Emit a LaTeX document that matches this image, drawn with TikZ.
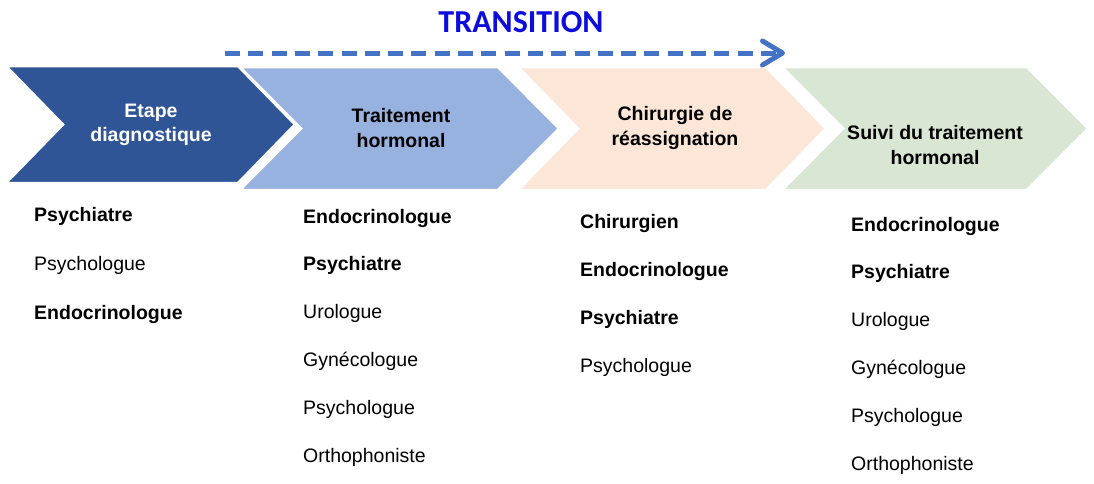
\documentclass[tikz,border=0pt]{standalone}
\usepackage{fontspec}
\setmainfont{Liberation Sans}
\newfontfamily\calibri{Carlito}
\usepackage{tikz}
\usetikzlibrary{arrows.meta}

\definecolor{diagblue}{HTML}{2F5597}
\definecolor{hormblue}{HTML}{98B2E0}
\definecolor{chirpeach}{HTML}{FBE6D8}
\definecolor{suivigreen}{HTML}{D9E6D4}
\definecolor{arrowblue}{HTML}{4472C4}
\definecolor{transblue}{HTML}{0C0CDC}

\tikzset{
 steptext/.style={align=center, inner sep=0pt, font=\fontsize{19.5}{24.5}\selectfont\bfseries},
 role/.style={anchor=base west, inner sep=0pt, font=\fontsize{19.5}{23}\selectfont},
 transarrow/.style={arrowblue, line width=5pt, dash pattern=on 15pt off 8.3pt,
   -{Straight Barb[length=20pt, width=24pt, line width=5pt, round]}},
}

\begin{document}
\begin{tikzpicture}[x=1pt, y=-1pt]
\useasboundingbox (0,0) rectangle (1094,483);
% the four steps
\foreach \xl/\xr/\ya/\yb/\d/\col in {6/238/66/183/57/diagblue, 240/498/67/190/61/hormblue,
  518/766/67/190/60/chirpeach, 782/1027/67/190/61/suivigreen} {
 \filldraw[fill=\col, draw=white, line width=2.5pt, line join=miter] (\xl,\ya) -- (\xr,\ya) -- ++(\d,{(\yb-\ya)/2}) -- (\xr,\yb)
   -- (\xl,\yb) -- ++(\d,{(\ya-\yb)/2}) -- cycle;
}
\node[steptext, white] (diag) at (151,125) {Etape\\diagnostique};
\node[steptext] (horm) at (401,128) {Traitement\\hormonal};
\node[steptext] (chir) at (675,128) {Chirurgie de\\réassignation};
\node[steptext] (suivi) at (935,145) {Suivi du traitement\\hormonal};

% transition arrow
\coordinate (tstart) at (225,53);
\coordinate (tend) at (785,53);
\draw[transarrow] (tstart) -- (tend);
\node[font=\calibri\bfseries\fontsize{32}{32}\selectfont, text=transblue] (trans) at (521,22) {TRANSITION};

% who is involved
\foreach \txt [count=\i] in {\textbf{Psychiatre}, Psychologue, \textbf{Endocrinologue}}
 \node[role] (diag-\i) at (34,{221+49*(\i-1)}) {\txt};
\foreach \txt [count=\i] in {\textbf{Endocrinologue}, \textbf{Psychiatre}, Urologue,
  Gynécologue, Psychologue, Orthophoniste}
 \node[role] (horm-\i) at (303,{223+47.8*(\i-1)}) {\txt};
\foreach \txt [count=\i] in {\textbf{Chirurgien}, \textbf{Endocrinologue}, \textbf{Psychiatre}, Psychologue}
 \node[role] (chir-\i) at (580,{228+48*(\i-1)}) {\txt};
\foreach \txt [count=\i] in {\textbf{Endocrinologue}, \textbf{Psychiatre}, Urologue,
  Gynécologue, Psychologue, Orthophoniste}
 \node[role] (suivi-\i) at (851,{231+47.8*(\i-1)}) {\txt};
\end{tikzpicture}
\end{document}
